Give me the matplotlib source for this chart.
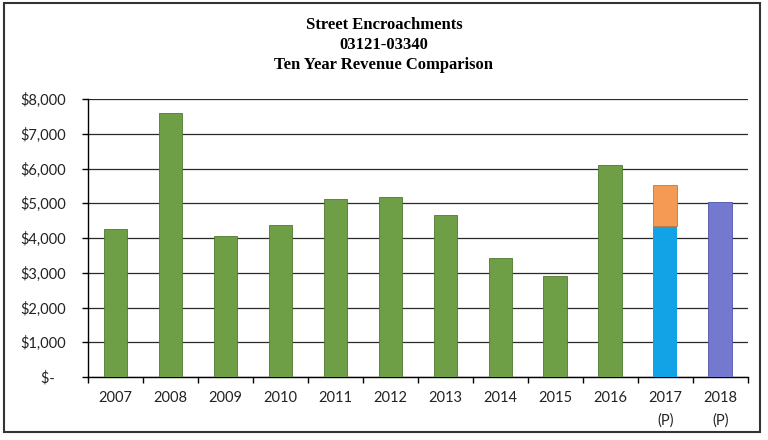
import matplotlib.pyplot as plt
from matplotlib.patches import Rectangle
from matplotlib.ticker import FuncFormatter

# data
years = ['2007', '2008', '2009', '2010', '2011', '2012', '2013', '2014',
         '2015', '2016', '2017\n(P)', '2018\n(P)']
actual = [4250, 7600, 4050, 4380, 5120, 5180, 4650, 3420, 2900, 6100, 0, 0]
proj_2017_base = [0] * 10 + [4350, 0]
proj_2017_extra = [0] * 10 + [1170, 0]
proj_2018 = [0] * 11 + [5030]

green = '#6E9E45'
blue = '#12A3E6'
orange = '#F59A55'
purple = '#7479CF'

fig = plt.figure(figsize=(7.68, 4.40), dpi=100)
ax = fig.add_axes([0.1146, 0.143, 0.859, 0.632])

x = range(len(years))
w = 0.43
ax.bar(x, actual, w, color=green, edgecolor='#4F7A30', linewidth=0.6, zorder=3)
ax.bar(x, proj_2017_base, w, color=blue, zorder=3)
ax.bar(x, proj_2017_extra, w, bottom=proj_2017_base, color=orange,
       edgecolor='#C8743A', linewidth=0.6, zorder=3)
ax.bar(x, proj_2018, w, color=purple, edgecolor='#4F55A8', linewidth=0.6, zorder=3)

ax.set_ylim(0, 8000)
ax.set_xlim(-0.5, len(years) - 0.5)
ax.set_yticks(range(0, 8001, 1000))
ax.yaxis.set_major_formatter(FuncFormatter(
    lambda v, p: '$-   ' if v == 0 else '${:,.0f}'.format(v)))
ax.grid(axis='y', color='#2a2a2a', linewidth=0.9, zorder=0)

ax.set_xticks(list(x))
ax.set_xticklabels(years)
ax.set_xticks([i + 0.5 for i in range(-1, len(years))], minor=True)
ax.tick_params(axis='x', which='major', length=0, pad=10)
ax.tick_params(axis='x', which='minor', length=4, direction='out', width=1)
ax.tick_params(axis='y', length=4, direction='out', width=1, pad=12)
for lab in ax.get_xticklabels() + ax.get_yticklabels():
    lab.set_fontfamily('Lato')
    lab.set_fontsize(10.5)
    lab.set_color('#222222')
    lab.set_linespacing(1.7)

for s in ['top', 'right']:
    ax.spines[s].set_visible(False)
ax.spines['left'].set_linewidth(1.0)
ax.spines['bottom'].set_linewidth(1.0)

fig.text(0.5, 0.962, 'Street Encroachments\n03121-03340\nTen Year Revenue Comparison',
         ha='center', va='top', fontsize=12, fontweight='bold',
         family='Liberation Serif', linespacing=1.35)

fig.patches.append(Rectangle((0.005, 0.018), 0.985, 0.975, transform=fig.transFigure,
                             fill=False, edgecolor='#333333', linewidth=1.5))

fig.savefig('out.png', dpi=100)
